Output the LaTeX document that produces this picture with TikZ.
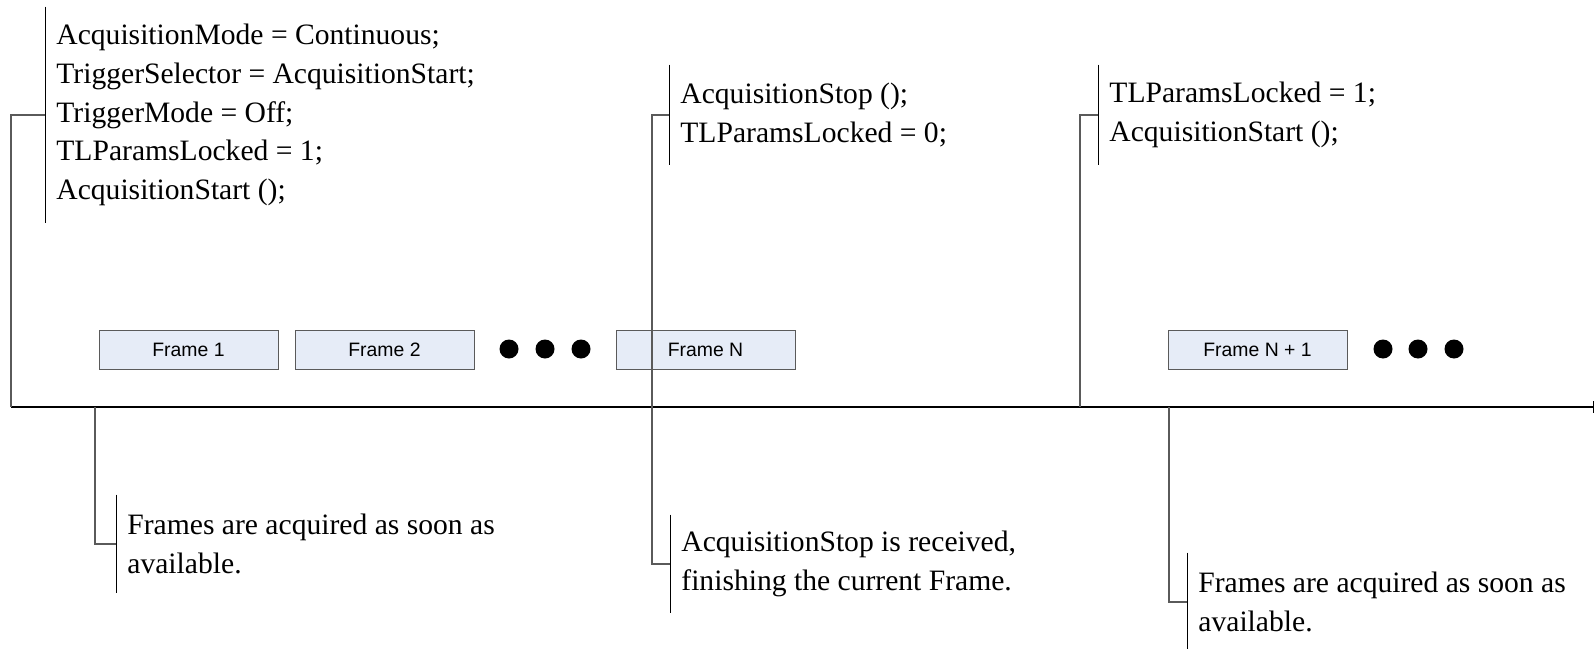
\documentclass[tikz,border=0pt]{standalone}
\usepackage{fontspec}
\setmainfont{Liberation Serif}
\setsansfont{Liberation Sans}
\usepackage{xcolor}
\usetikzlibrary{arrows.meta}

\definecolor{framefill}{RGB}{230,236,247}
\definecolor{linegray}{RGB}{90,90,90}

\tikzset{
  framebox/.style={draw=linegray, fill=framefill, line width=0.5pt,
    minimum width=89.5pt, minimum height=19.5pt, inner sep=0pt,
    font=\sffamily\fontsize{9.7pt}{11pt}\selectfont},
  callout/.style={anchor=west, align=left, inner xsep=5.5pt, inner ysep=0pt,
    font=\fontsize{14.8pt}{19.3pt}\selectfont},
  bracket/.style={draw=black, line width=0.5pt},
  link/.style={draw=linegray, line width=0.6pt}
}

\begin{document}
\begin{tikzpicture}[x=0.5pt, y=-0.5pt]
  \useasboundingbox (0,0) rectangle (1595,648);

  % points on the time line
  \coordinate (t0) at (11,407);
  \coordinate (t1) at (1594,407);
  \coordinate (a) at (95,407);
  \coordinate (m) at (652,407);
  \coordinate (n) at (1080,407);
  \coordinate (b) at (1169,407);

  % time line
  \draw[link, -{Bar[width=6pt, line width=0.6pt]}, black] (t0) -- (t1);

  % frames
  \node[framebox] (f1) at (188.5,349.5) {Frame 1};
  \node[framebox] (f2) at (384.5,349.5) {Frame 2};
  \node[framebox] (fN) at (705.5,349.5) {Frame N};
  \node[framebox] (fN1) at (1257.5,349.5) {Frame N + 1};
  \foreach \x in {509,545,581,1383,1418,1454}
    \fill (\x,349) circle (4.75pt);

  % callouts above the line
  \node[callout, minimum height=108pt] (start) at (45,115) {AcquisitionMode = Continuous;\\
    TriggerSelector = AcquisitionStart;\\ TriggerMode = Off;\\
    TLParamsLocked = 1;\\ AcquisitionStart ();};
  \node[callout, minimum height=50pt] (stop) at (669,115) {AcquisitionStop ();\\ TLParamsLocked = 0;};
  \node[callout, minimum height=50pt] (restart) at (1098,115) {TLParamsLocked = 1;\\ AcquisitionStart ();};

  % callouts below the line
  \node[callout, minimum height=49pt] (run) at (116,544) {Frames are acquired as soon as\\ available.};
  \node[callout, minimum height=49pt] (finish) at (670,564) {AcquisitionStop is received,\\ finishing the current Frame.};
  \node[callout, minimum height=49pt] (rerun) at (1187,602) {Frames are acquired as soon as\\ available.};

  \foreach \c in {start,stop,restart,run,finish,rerun}
    \draw[bracket] (\c.north west) -- (\c.south west);

  % connectors
  \draw[link] (start.west) -| (t0);
  \draw[link] (stop.west) -| (m) |- (finish.west);
  \draw[link] (restart.west) -| (n);
  \draw[link] (run.west) -| (a);
  \draw[link] (rerun.west) -| (b);
\end{tikzpicture}
\end{document}
